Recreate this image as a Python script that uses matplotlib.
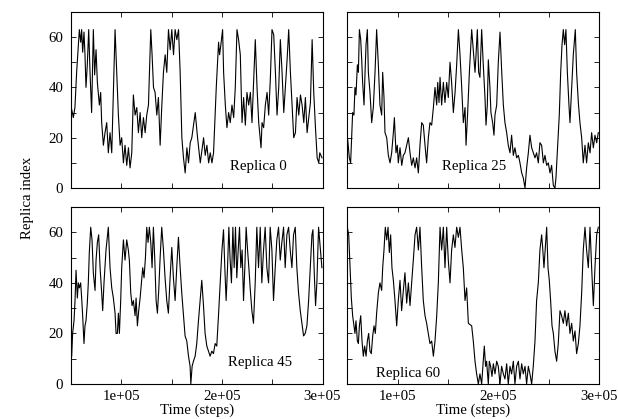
import matplotlib
matplotlib.use("Agg")
import matplotlib.pyplot as plt
from matplotlib.ticker import FixedLocator, FuncFormatter, NullFormatter

plt.rcParams['font.family'] = ['Liberation Serif', 'DejaVu Serif']
FS = 10.7

# ---- data: time in thousands of steps, replica index ----
t_rep0 = [50.3, 52.3, 53.9, 55.6, 57.3, 58.3, 59.6, 60.6, 61.6, 62.9, 63.9, 64.9, 66.2, 67.6, 68.9, 70.5,
          72.2, 73.5, 74.9, 76.2, 78.2, 79.5, 80.5, 82.2, 83.8, 85.5, 87.1, 88.8, 90.5, 93.8, 95.4, 97.1,
          98.8, 100.4, 102.1, 103.7, 105.4, 107.1, 108.7, 110.4, 112.0, 113.7, 115.4, 117.0, 118.7, 120.3,
          122.0, 123.7, 125.3, 127.0, 129.3, 130.6, 132.0, 133.6, 135.3, 136.9, 138.6, 140.3, 141.9, 143.6,
          145.2, 146.9, 148.6, 150.2, 151.9, 153.5, 155.2, 156.9, 158.5, 160.2, 161.8, 163.5, 165.2, 166.8,
          168.5, 170.1, 173.5, 175.8, 178.5, 181.8, 183.4, 185.1, 186.8, 188.4, 190.1, 191.7, 194.4, 196.7,
          197.7, 199.0, 200.7, 201.7, 203.4, 205.0, 206.7, 208.3, 210.0, 211.7, 213.3, 215.0, 216.6, 218.3,
          220.0, 221.6, 223.3, 224.9, 226.6, 228.3, 229.9, 233.2, 234.9, 236.6, 238.9, 239.9, 241.5, 243.2,
          244.9, 246.5, 248.2, 249.8, 251.5, 253.2, 254.8, 256.5, 258.1, 259.8, 261.5, 263.1, 264.8, 266.4,
          268.1, 269.8, 271.4, 273.1, 274.7, 276.4, 278.1, 279.7, 281.4, 283.0, 284.7, 286.4, 288.0, 289.7,
          291.3, 293.0, 294.7, 296.3, 297.3, 299.5]
i_rep0 = [32, 28, 32, 46, 57, 63, 58, 63, 54, 62, 53, 40, 49, 63, 46, 30,
          63, 45, 55, 42, 33, 38, 26, 17, 22, 26, 14, 22, 14, 63, 46, 29,
          17, 20, 10, 17, 9, 16, 8, 14, 37, 29, 32, 22, 30, 20,
          28, 22, 29, 33, 63, 53, 40, 38, 29, 36, 17, 33, 46, 53,
          46, 63, 55, 63, 53, 63, 59, 63, 46, 20, 12, 6, 16, 10,
          18, 20, 30, 20, 10, 20, 13, 17, 10, 14, 10, 14, 40, 58,
          53, 57, 63, 46, 33, 24, 30, 26, 33, 28, 40, 63, 59, 53,
          26, 36, 25, 38, 33, 38, 26, 59, 40, 26, 16, 26, 24, 33,
          38, 29, 44, 63, 61, 46, 29, 40, 59, 46, 30, 40, 51, 63,
          46, 33, 20, 22, 36, 29, 37, 33, 26, 36, 22, 28, 34, 59,
          38, 24, 12, 10, 14, 12]

t_rep25 = [50.0, 52.0, 53.3, 55.3, 56.6, 57.6, 58.6, 60.0, 61.0, 62.0, 63.3, 64.3, 65.2, 66.6, 67.6, 68.6,
           69.9, 70.9, 72.5, 74.2, 75.8, 77.5, 79.1, 80.8, 82.4, 84.1, 85.1, 86.4, 87.4, 89.1, 90.7, 92.4,
           94.0, 95.7, 96.7, 98.3, 99.6, 100.6, 102.3, 104.0, 105.6, 107.2, 108.9, 110.6, 112.2, 113.9,
           115.5, 117.2, 118.8, 120.5, 122.1, 123.8, 125.4, 127.1, 128.7, 130.4, 132.0, 133.7, 135.4, 137.0,
           138.7, 139.7, 141.0, 142.0, 143.6, 145.3, 146.9, 148.6, 150.2, 151.9, 153.5, 155.2, 156.9, 158.5,
           160.2, 161.8, 163.5, 165.1, 166.8, 167.8, 169.4, 171.1, 173.4, 175.0, 176.7, 177.7, 179.0, 180.3,
           181.6, 183.3, 184.9, 186.6, 187.6, 188.9, 189.9, 191.5, 192.5, 194.2, 195.5, 196.5, 198.2, 199.8,
           201.5, 203.1, 204.8, 206.4, 208.1, 209.7, 211.4, 213.0, 214.7, 216.3, 218.0, 219.7, 221.3, 223.0,
           224.6, 226.3, 227.9, 229.6, 231.2, 232.9, 234.5, 236.2, 237.8, 239.5, 241.1, 242.8, 244.5, 246.1,
           247.8, 249.4, 251.1, 252.7, 254.4, 256.0, 257.0, 258.3, 260.3, 261.7, 263.0, 264.3, 265.6, 266.9,
           268.3, 269.9, 270.9, 272.6, 274.2, 276.2, 277.5, 279.2, 280.8, 282.5, 284.1, 285.8, 287.4, 289.1,
           290.8, 292.4, 294.1, 295.7, 297.4, 299.0]
i_rep25 = [21, 12, 10, 30, 29, 40, 37, 49, 46, 63, 59, 51, 42, 33, 46, 57,
           63, 46, 38, 26, 32, 46, 63, 49, 33, 29, 46, 36, 22, 20, 13, 10,
           14, 22, 28, 14, 17, 10, 16, 9, 13, 14, 17, 20, 14, 9,
           12, 8, 12, 6, 17, 26, 25, 17, 10, 20, 26, 25, 32, 40,
           33, 42, 34, 44, 33, 42, 34, 42, 36, 50, 42, 30, 38, 49,
           63, 53, 40, 26, 32, 17, 30, 46, 63, 55, 46, 53, 63, 46,
           44, 63, 49, 36, 25, 33, 51, 40, 30, 26, 21, 29, 33, 50,
           62, 47, 33, 26, 22, 17, 14, 21, 13, 16, 12, 13, 10, 6,
           4, 0, 8, 14, 21, 16, 14, 12, 14, 10, 18, 17, 10, 13,
           9, 10, 6, 9, 1, 0, 4, 14, 29, 46, 57, 63, 57, 63,
           46, 33, 26, 40, 53, 63, 46, 34, 26, 20, 10, 17, 10, 18,
           14, 22, 16, 21, 18, 22]

t_rep45 = [50.7, 51.6, 53.0, 54.0, 55.0, 56.3, 57.3, 58.3, 59.6, 60.6, 61.6, 62.9, 63.9, 64.9, 66.2, 67.2,
           68.2, 69.6, 70.9, 72.2, 73.9, 74.9, 76.2, 77.5, 78.9, 80.5, 81.5, 82.8, 84.8, 87.1, 88.8, 90.5,
           92.1, 93.8, 94.8, 96.1, 97.1, 98.1, 99.4, 100.4, 102.1, 103.7, 105.4, 107.0, 108.0, 109.4, 110.7,
           112.0, 113.7, 114.7, 116.0, 117.3, 118.7, 120.0, 121.3, 122.6, 124.0, 125.3, 126.6, 127.9, 129.3,
           130.6, 131.9, 133.3, 134.6, 135.9, 137.2, 138.6, 140.2, 141.9, 143.5, 145.2, 146.8, 148.5, 150.2,
           151.8, 153.5, 155.1, 156.8, 158.5, 160.1, 161.8, 163.4, 165.1, 166.8, 168.4, 169.1, 170.4, 171.7,
           173.4, 175.0, 176.7, 178.4, 180.0, 181.7, 183.3, 185.0, 186.6, 188.3, 190.0, 191.6, 193.3, 194.9,
           196.6, 198.3, 199.9, 201.6, 202.9, 204.2, 205.6, 206.9, 208.2, 209.5, 210.9, 212.2, 213.5, 214.8,
           216.2, 217.5, 218.8, 220.1, 221.5, 222.8, 224.1, 225.5, 226.8, 228.1, 229.8, 231.4, 233.1, 234.7,
           236.4, 238.1, 239.7, 241.4, 243.0, 244.7, 246.4, 248.0, 249.7, 251.3, 253.0, 254.6, 256.3, 258.0,
           259.6, 261.3, 262.9, 264.6, 266.3, 267.9, 269.6, 271.2, 272.9, 274.5, 276.2, 277.9, 279.5, 281.2,
           282.8, 284.5, 286.2, 287.8, 289.5, 290.5, 291.8, 293.1, 294.4, 296.1, 299.4]
i_rep45 = [11, 20, 25, 33, 45, 34, 40, 38, 40, 34, 27, 16, 23, 25, 32, 40,
           52, 62, 57, 44, 37, 49, 56, 59, 46, 36, 29, 40, 53, 62, 46, 38,
           34, 28, 20, 20, 28, 20, 33, 46, 57, 49, 57, 53, 49, 36, 31,
           33, 27, 34, 23, 29, 34, 40, 46, 42, 50, 62, 56, 62, 56,
           46, 62, 49, 33, 28, 37, 50, 62, 53, 42, 33, 28, 42, 54,
           42, 33, 46, 58, 46, 36, 27, 19, 17, 11, 7, 0, 7, 9,
           11, 16, 25, 33, 41, 31, 20, 15, 13, 11, 13, 12, 16, 15,
           27, 40, 52, 61, 46, 33, 46, 62, 49, 40, 62, 46, 62, 42,
           53, 62, 46, 53, 33, 46, 62, 53, 46, 38, 29, 24, 40, 62,
           46, 62, 40, 53, 62, 46, 40, 62, 53, 33, 46, 57, 62, 49,
           56, 62, 46, 59, 62, 53, 46, 59, 62, 46, 36, 29, 24, 19,
           20, 23, 33, 46, 59, 61, 44, 31, 40, 62, 46]

t_rep60 = [50.0, 51.4, 52.7, 54.0, 55.3, 56.6, 57.6, 58.6, 60.0, 61.0, 62.0, 63.3, 64.6, 65.9, 67.2, 68.6,
           69.9, 71.2, 72.5, 73.8, 75.2, 76.5, 77.8, 79.1, 80.8, 82.4, 84.1, 85.1, 86.4, 87.7, 89.1, 90.4,
           91.7, 93.0, 94.3, 95.7, 97.3, 99.0, 100.6, 102.3, 103.9, 105.6, 107.2, 108.9, 110.6, 112.2, 113.9,
           115.5, 117.2, 118.8, 120.5, 122.1, 123.8, 125.4, 127.1, 128.7, 130.4, 132.0, 133.7, 135.4, 137.0,
           138.7, 140.3, 142.0, 143.6, 145.3, 146.9, 148.6, 150.2, 151.9, 153.5, 155.2, 156.8, 158.5, 160.2,
           161.8, 163.5, 165.1, 166.8, 168.4, 170.1, 173.4, 175.0, 176.7, 178.3, 180.0, 181.6, 183.3, 184.9,
           185.9, 187.2, 188.2, 189.9, 190.9, 192.2, 193.5, 194.9, 196.5, 198.2, 199.8, 201.5, 203.1, 204.8,
           206.4, 208.1, 209.7, 211.4, 213.0, 214.7, 216.3, 218.0, 219.7, 221.3, 223.0, 224.6, 226.3, 227.9,
           229.6, 231.2, 232.9, 234.5, 236.2, 237.8, 239.5, 241.1, 242.8, 243.8, 245.1, 246.4, 247.8, 249.1,
           250.4, 251.7, 253.1, 254.4, 256.0, 257.7, 259.3, 261.0, 262.6, 264.3, 265.9, 267.6, 269.3, 270.9,
           272.6, 274.2, 275.9, 277.5, 279.2, 280.8, 282.5, 284.1, 285.8, 287.4, 289.1, 290.8, 292.4, 294.1,
           295.7, 297.4, 299.0]
i_rep60 = [62, 59, 46, 34, 27, 23, 20, 25, 17, 16, 23, 27, 17, 11, 15, 11,
           17, 20, 13, 12, 19, 23, 20, 28, 36, 40, 37, 46, 53, 62, 57, 62,
           52, 59, 46, 41, 33, 23, 33, 41, 29, 37, 44, 32, 40, 31, 40,
           49, 59, 62, 53, 62, 46, 33, 27, 24, 20, 16, 17, 11, 17,
           27, 40, 62, 53, 62, 46, 62, 49, 40, 53, 59, 54, 62, 58,
           62, 53, 46, 33, 38, 24, 23, 17, 9, 4, 0, 4, 0, 9,
           15, 7, 9, 0, 9, 7, 3, 8, 4, 9, 7, 0, 7, 4,
           2, 8, 0, 7, 4, 9, 0, 7, 9, 2, 8, 4, 7, 0,
           7, 4, 0, 7, 17, 33, 40, 53, 59, 54, 46, 54, 62, 46,
           41, 33, 23, 20, 13, 9, 16, 29, 27, 24, 29, 23, 28, 20,
           24, 17, 21, 12, 16, 23, 36, 53, 62, 53, 46, 62, 46, 31,
           46, 59, 62]

panels = [
    (t_rep0, i_rep0, "Replica 0", (0.745, 0.12)),
    (t_rep25, i_rep25, "Replica 25", (0.505, 0.12)),
    (t_rep45, i_rep45, "Replica 45", (0.75, 0.124)),
    (t_rep60, i_rep60, "Replica 60", (0.242, 0.062)),
]

W, H = 618, 419
fig = plt.figure(figsize=(W / 100, H / 100), dpi=100)
rects = [
    (71 / W, 1 - 188 / H, 251.5 / W, 176 / H),
    (347.3 / W, 1 - 188 / H, 252 / W, 176 / H),
    (71 / W, 1 - 384 / H, 251.5 / W, 177 / H),
    (347.3 / W, 1 - 384 / H, 252 / W, 177 / H),
]

for k, (rect, (t, idx, name, pos)) in enumerate(zip(rects, panels)):
    ax = fig.add_axes(rect)
    ax.plot([v * 1e3 for v in t], idx, color='black', lw=0.8)
    ax.set_xlim(5e4, 3e5)
    ax.set_ylim(0, 70)
    ax.xaxis.set_major_locator(FixedLocator([1e5, 2e5, 3e5]))
    ax.xaxis.set_minor_locator(FixedLocator([0.5e5, 1.5e5, 2.5e5]))
    ax.yaxis.set_major_locator(FixedLocator([0, 20, 40, 60]))
    ax.yaxis.set_minor_locator(FixedLocator([10, 30, 50]))
    ax.xaxis.set_major_formatter(FuncFormatter(lambda x, p: f"{x:.0e}"))
    ax.tick_params(which='both', direction='in', top=True, right=True,
                   length=3.5, width=0.6, labelsize=FS)
    ax.tick_params(axis='x', pad=4)
    ax.tick_params(axis='y', pad=5.5)
    for s in ax.spines.values():
        s.set_linewidth(0.8)
    if k < 2:
        ax.xaxis.set_major_formatter(NullFormatter())
    else:
        ax.set_xlabel("Time (steps)", fontsize=FS, labelpad=0.5)
    if k % 2 == 1:
        ax.yaxis.set_major_formatter(NullFormatter())
    ax.text(pos[0], pos[1], name, transform=ax.transAxes, ha='center', va='center', fontsize=FS)

fig.text(27 / W, 1 - 197.5 / H, "Replica index", rotation=90, ha='center', va='center', fontsize=FS)

fig.savefig("out.png", dpi=100)
